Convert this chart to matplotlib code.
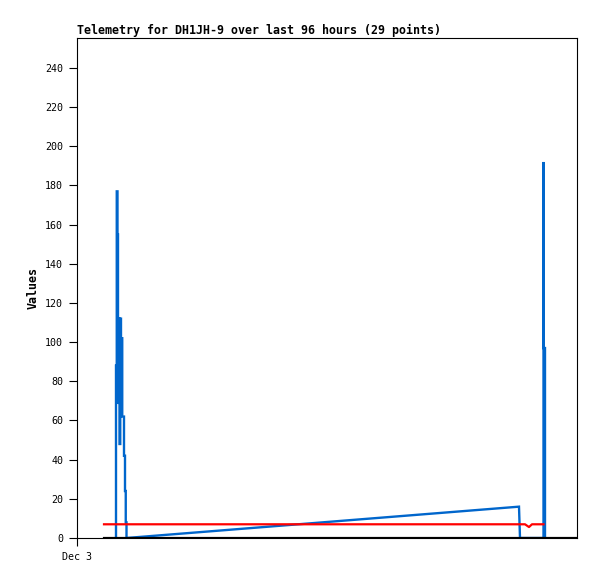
import matplotlib
matplotlib.use("Agg")
import matplotlib.pyplot as plt

# hours since Dec 3 00:00 (the axis spans 100 h)
blue_x = [7.8, 7.8, 7.95, 7.95, 8.1, 8.1, 8.2, 8.2, 8.35, 8.35, 8.5, 8.5,
          8.65, 8.65, 8.8, 8.8, 9.05, 9.05, 9.4, 9.4, 9.6, 9.6, 9.75, 9.75,
          9.9, 9.9, 88.4, 88.6, 93.3, 93.3, 93.3, 93.6, 93.6]
blue_y = [0, 88, 88, 177, 177, 155, 155, 69, 69, 112, 112, 48,
          48, 112, 112, 102, 102, 62, 62, 42, 42, 24, 24, 8,
          8, 0, 16, 0, 0, 192, 97, 97, 0]

red_x = [5.4, 89.6, 90.4, 91.0, 93.3]
red_y = [7, 7, 5.6, 7, 7]

black_x = [5.4, 100]
black_y = [0, 0]

yticks = list(range(0, 241, 20))
TITLE = "Telemetry for DH1JH-9 over last 96 hours (29 points)"

MONO = "DejaVu Sans Mono"

fig = plt.figure(figsize=(5.97, 5.79), dpi=100)
ax = fig.add_axes([77 / 597, 41 / 579, 500 / 597, 500 / 579])

ax.plot(blue_x, blue_y, color="#0066CC", lw=1.7, solid_joinstyle="miter")
ax.plot(red_x, red_y, color="#FF0000", lw=1.6)
ax.plot(black_x, black_y, color="black", lw=2.3)

ax.set_xlim(0, 100)
ax.set_ylim(0, 255.3)
ax.set_yticks(yticks)
ax.set_xticks([0])
ax.set_xticklabels(["Dec 3"])
for lab in ax.get_xticklabels() + ax.get_yticklabels():
    lab.set_family(MONO)
    lab.set_fontsize(7.2)
ax.tick_params(direction="out", length=6, width=0.8, pad=4)
for s in ax.spines.values():
    s.set_linewidth(0.8)

ax.set_ylabel("Values", family=MONO, fontweight="bold", fontsize=8.4, labelpad=4)
ax.set_title(TITLE, family=MONO, fontweight="bold", fontsize=8.4, loc="left", pad=3)

fig.savefig("out.png", dpi=100)
